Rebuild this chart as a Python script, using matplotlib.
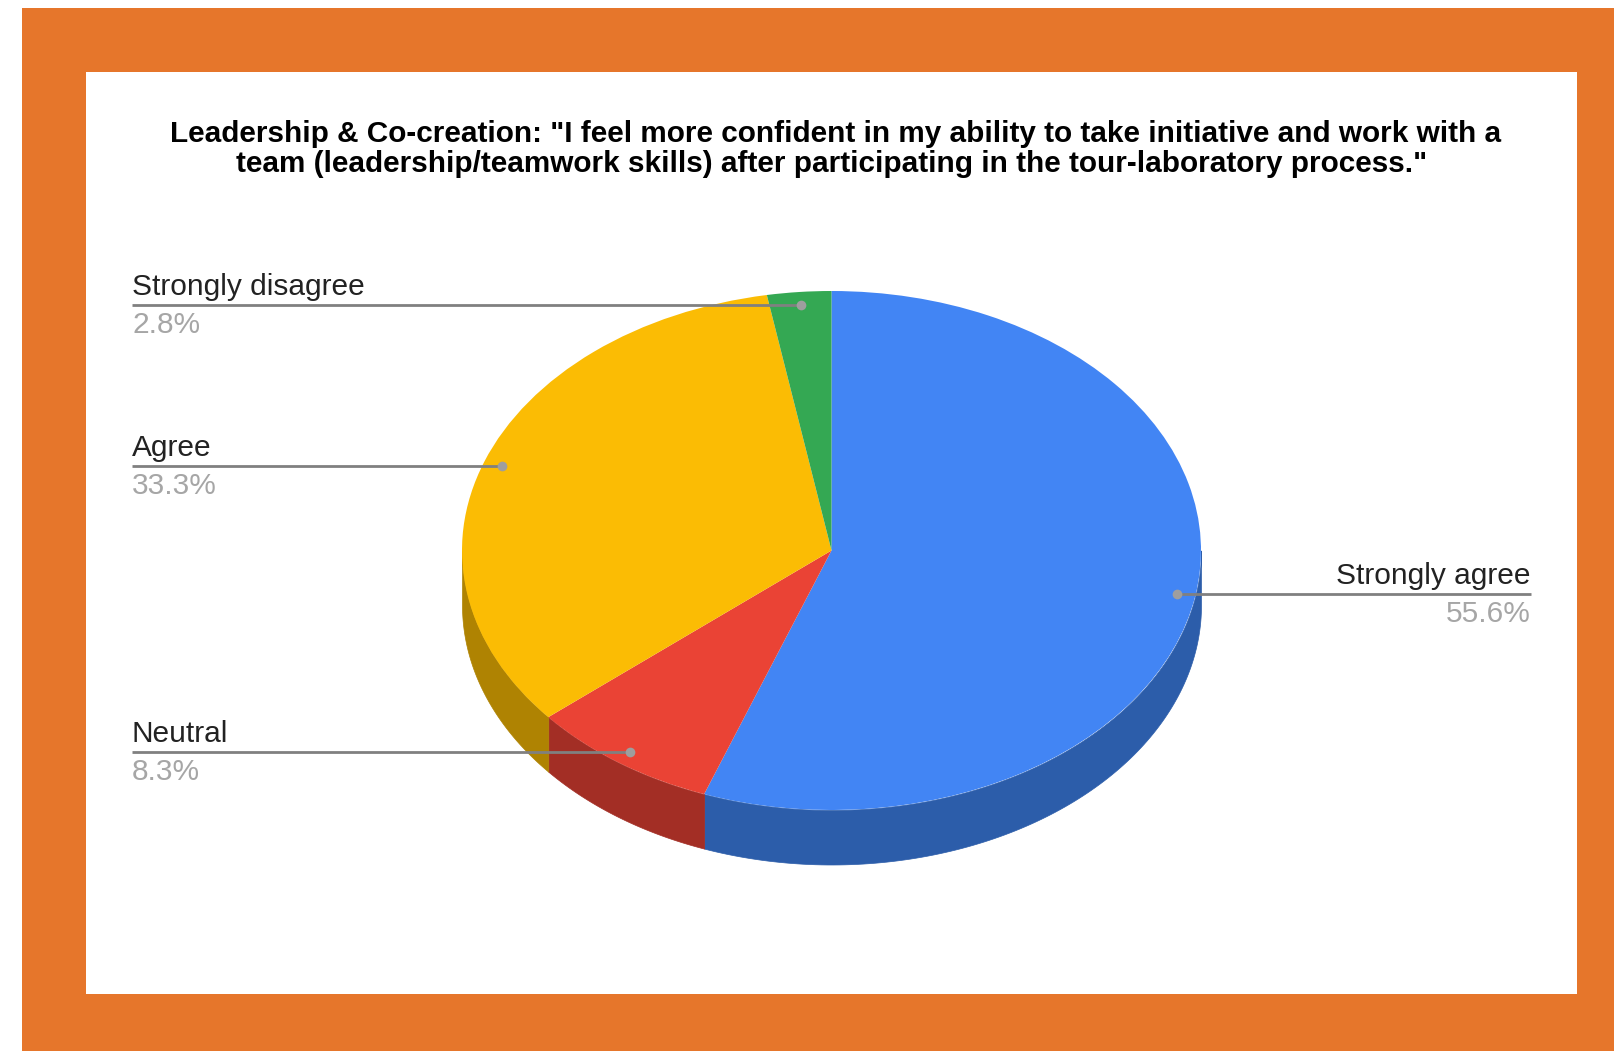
import numpy as np
import matplotlib
matplotlib.use("Agg")
import matplotlib.pyplot as plt
from matplotlib.patches import Rectangle

plt.rcParams['font.family'] = ['Liberation Sans', 'DejaVu Sans']

labels = ["Strongly agree", "Neutral", "Agree", "Strongly disagree"]
values = [55.6, 8.3, 33.3, 2.8]
pct_labels = ["55.6%", "8.3%", "33.3%", "2.8%"]
colors = ["#4285F4", "#EA4335", "#FBBC04", "#34A853"]
side_colors = ["#2C5DAA", "#A32E25", "#AF8302", "#247540"]
title_lines = ["Leadership & Co-creation: \"I feel more confident in my ability to take initiative and work with a",
               "team (leadership/teamwork skills) after participating in the tour-laboratory process.\""]

W, H = 1614, 1051
cx, cy, rx, ry = 831.5, 550.5, 369.5, 259.5
depth = 54.5 / ry

fig = plt.figure(figsize=(W / 100, H / 100), dpi=100)

# page background and white panel, in pixels
bg = fig.add_axes([0, 0, 1, 1])
bg.set_xlim(0, W)
bg.set_ylim(H, 0)
bg.axis("off")
bg.add_patch(Rectangle((22, 8), W - 22, H - 8, color="#E6762B", lw=0))
bg.add_patch(Rectangle((86, 72), 1577 - 86, 994 - 72, color="white", lw=0))

# the pie axes is the unit box of the ellipse
ax = fig.add_axes([(cx - rx) / W, 1 - (cy + ry) / H, 2 * rx / W, 2 * ry / H])
ax.patch.set_alpha(0)
ax.pie(values, colors=colors, startangle=90, counterclock=False, radius=1,
       wedgeprops={"linewidth": 0})
ax.set_aspect("auto")
ax.set_xlim(-1, 1)
ax.set_ylim(-1, 1)

# side wall of the lower half
fracs = np.array(values) / sum(values)
edges = 90 - 360 * np.concatenate([[0], np.cumsum(fracs)])
for i in range(len(values)):
    a0 = np.mod(edges[i], 360)
    a1 = np.mod(edges[i + 1], 360)
    lo, hi = min(a0, a1), max(a0, a1)
    if edges[i] > 0 > edges[i + 1]:
        lo, hi = a1, 360
    if hi <= 180:
        continue
    lo = max(lo, 180)
    th = np.radians(np.linspace(lo, hi, 120))
    ax.fill_between(np.cos(th), np.sin(th), np.sin(th) - depth, color=side_colors[i], lw=0.5,
                    clip_on=False, zorder=0)

# labels and leader lines, in pixels
top = fig.add_axes([0, 0, 1, 1])
top.set_xlim(0, W)
top.set_ylim(H, 0)
top.axis("off")
top.patch.set_alpha(0)

top.text(836, 141.5, title_lines[0], ha="center", va="baseline", fontsize=21.4, fontweight="bold", color="black")
top.text(832, 171.5, title_lines[1], ha="center", va="baseline", fontsize=21.4, fontweight="bold", color="black")

mids = 90 - 360 * (np.cumsum(fracs) - fracs / 2)
for name, pct, mid in zip(labels, pct_labels, mids):
    px = cx + 0.95 * rx * np.cos(np.radians(mid))
    py = cy - 0.95 * ry * np.sin(np.radians(mid))
    if px > cx:
        end, ha = 1531, "right"
    else:
        end, ha = 132, "left"
    top.plot([px, end], [py, py], color="#808080", lw=2, solid_capstyle="butt")
    top.plot([px], [py], "o", color="#9E9E9E", ms=7, mew=0)
    top.text(end, py - 10, name, ha=ha, va="baseline", fontsize=21.5, color="#222222")
    top.text(end, py + 28, pct, ha=ha, va="baseline", fontsize=21.5, color="#A6A6A6")

fig.savefig("out.png", dpi=100, facecolor="white")
